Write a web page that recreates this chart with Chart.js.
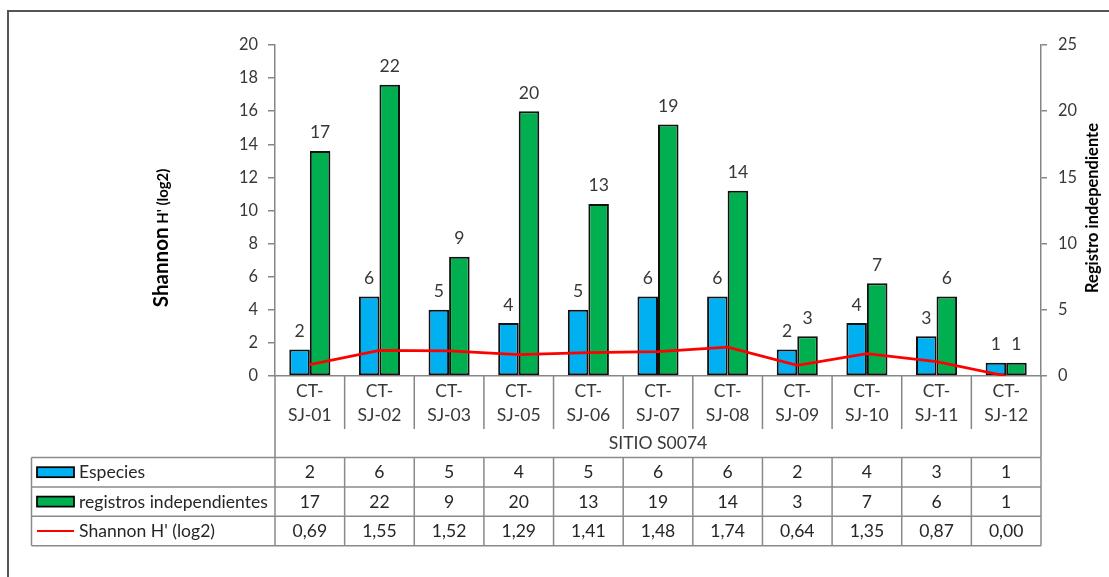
<!DOCTYPE html>
<html>
<head>
<meta charset="utf-8">
<script src="https://cdn.jsdelivr.net/npm/chart.js@4.4.1/dist/chart.umd.min.js"></script>
<style>
  html, body { margin: 0; padding: 0; background: #ffffff; }
  canvas { display: block; }
</style>
</head>
<body>
<canvas id="chart" width="1109" height="577"></canvas>
<script>
// ---- data -------------------------------------------------------------
const sites = ['CT-SJ-01', 'CT-SJ-02', 'CT-SJ-03', 'CT-SJ-05', 'CT-SJ-06', 'CT-SJ-07',
               'CT-SJ-08', 'CT-SJ-09', 'CT-SJ-10', 'CT-SJ-11', 'CT-SJ-12'];
const especies  = [2, 6, 5, 4, 5, 6, 6, 2, 4, 3, 1];
const registros = [17, 22, 9, 20, 13, 19, 14, 3, 7, 6, 1];
const shannon   = [0.69, 1.55, 1.52, 1.29, 1.41, 1.48, 1.74, 0.64, 1.35, 0.87, 0.00];

const shannonTicks  = [0, 2, 4, 6, 8, 10, 12, 14, 16, 18, 20];
const registroTicks = [0, 5, 10, 15, 20, 25];

const seriesNames = ['Especies', 'registros independientes', "Shannon H' (log2)"];
const groupLabel  = 'SITIO S0074';
const leftTitleMain  = 'Shannon';
const leftTitleSmall = " H' (log2)";
const rightTitle  = 'Registro independiente';

// ---- style --------------------------------------------------------------
const FAMILY = 'Lato, "Open Sans", "Liberation Sans", sans-serif';
const BLUE = '#00B0F0', GREEN = '#00B050', RED = '#FF0000';
const AXIS = '#868686', TEXT = '#383838', TABLE_TEXT = '#262626', FRAME = '#555555';

// size a font so a reference string spans a given width
const measureCtx = document.createElement('canvas').getContext('2d');
function fitSize(text, width, weight) {
  measureCtx.font = `${weight} 100px ${FAMILY}`;
  return 100 * width / measureCtx.measureText(text).width;
}
const baseSize  = fitSize('registros independientes', 189, 'normal');
const tickSize  = fitSize('20', 19, 'normal');
const titleMain = fitSize(leftTitleMain, 80, 'bold');
const titleSml  = fitSize(leftTitleSmall.trim(), 55, 'bold');
const titleRgt  = fitSize(rightTitle, 170, 'bold');

const fmt = v => v.toFixed(2).replace('.', ',');

// ---- decorations: category band, data table, value labels, titles ------
const decorations = {
  id: 'decorations',
  beforeDraw(chart) {
    const c = chart.ctx;
    c.save();
    c.fillStyle = '#ffffff';
    c.fillRect(0, 0, chart.width, chart.height);
    // outer frame (top and left edges)
    c.strokeStyle = FRAME;
    c.lineWidth = 2;
    c.beginPath();
    c.moveTo(8, chart.height);
    c.lineTo(8, 11);
    c.lineTo(chart.width, 11);
    c.stroke();
    c.restore();
  },
  afterDraw(chart) {
    const c = chart.ctx;
    const a = chart.chartArea;
    const xs = chart.scales.x;
    const centers = sites.map((_, i) => xs.getPixelForValue(i));
    const edges = [a.left];
    for (let i = 0; i < centers.length - 1; i++) edges.push((centers[i] + centers[i + 1]) / 2);
    edges.push(a.right);

    const sepBottom = 429;
    const tableTop = 457.5;
    const rowH = 29.4;
    const tableLeft = 31.5;
    const tableBottom = tableTop + rowH * 3;

    c.save();
    // category band separators
    c.strokeStyle = AXIS;
    c.lineWidth = 1.5;
    c.beginPath();
    edges.forEach((e, i) => {
      const outer = i === 0 || i === edges.length - 1;
      c.moveTo(e, a.bottom);
      c.lineTo(e, outer ? tableTop : sepBottom);
    });
    c.stroke();

    // category labels (two lines) and group label
    c.fillStyle = TEXT;
    c.font = `${baseSize}px ${FAMILY}`;
    c.textAlign = 'center';
    c.textBaseline = 'middle';
    sites.forEach((s, i) => {
      const cut = s.indexOf('-') + 1;
      c.fillText(s.slice(0, cut), centers[i], 391);
      c.fillText(s.slice(cut), centers[i], 415);
    });
    c.fillText(groupLabel, (a.left + a.right) / 2, 443);

    // data table grid
    c.strokeStyle = '#8a8a8a';
    c.lineWidth = 1.5;
    c.beginPath();
    for (let r = 0; r <= 3; r++) {
      c.moveTo(tableLeft, tableTop + r * rowH);
      c.lineTo(a.right, tableTop + r * rowH);
    }
    c.moveTo(tableLeft, tableTop);
    c.lineTo(tableLeft, tableBottom);
    edges.forEach(e => { c.moveTo(e, tableTop); c.lineTo(e, tableBottom); });
    c.stroke();

    // legend keys
    const keyX = 37, keyW = 37;
    const rowMid = r => tableTop + rowH * r + rowH / 2;
    [BLUE, GREEN].forEach((col, r) => {
      c.fillStyle = col;
      c.fillRect(keyX, rowMid(r) - 5, keyW, 10);
      c.strokeStyle = '#000000';
      c.lineWidth = 1.75;
      c.strokeRect(keyX, rowMid(r) - 5, keyW, 10);
    });
    c.strokeStyle = RED;
    c.lineWidth = 2;
    c.beginPath();
    c.moveTo(keyX, rowMid(2));
    c.lineTo(keyX + keyW, rowMid(2));
    c.stroke();

    // table text
    c.fillStyle = TABLE_TEXT;
    c.font = `${baseSize}px ${FAMILY}`;
    c.textAlign = 'left';
    seriesNames.forEach((n, r) => c.fillText(n, 79, rowMid(r) + 0.5));
    c.textAlign = 'center';
    const rows = [especies.map(String), registros.map(String), shannon.map(fmt)];
    rows.forEach((vals, r) => vals.forEach((v, i) => c.fillText(v, centers[i], rowMid(r) + 0.5)));

    // value labels above bars
    c.fillStyle = TEXT;
    c.textBaseline = 'alphabetic';
    [0, 1].forEach(d => {
      const meta = chart.getDatasetMeta(d);
      const vals = chart.data.datasets[d].data;
      meta.data.forEach((el, i) => c.fillText(String(vals[i]), el.x, el.y - 12.5));
    });

    // left axis title: "Shannon" + smaller " H' (log2)"
    c.save();
    c.translate(167.5, 238);
    c.rotate(-Math.PI / 2);
    c.fillStyle = '#000000';
    c.textAlign = 'left';
    c.font = `bold ${titleMain}px ${FAMILY}`;
    const w1 = c.measureText(leftTitleMain).width;
    c.font = `bold ${titleSml}px ${FAMILY}`;
    const w2 = c.measureText(leftTitleSmall).width;
    const start = -(w1 + w2) / 2;
    c.font = `bold ${titleMain}px ${FAMILY}`;
    c.fillText(leftTitleMain, start, 0);
    c.font = `bold ${titleSml}px ${FAMILY}`;
    c.fillText(leftTitleSmall, start + w1, 0);
    c.restore();

    // right axis title
    c.save();
    c.translate(1097.5, 208);
    c.rotate(-Math.PI / 2);
    c.fillStyle = '#000000';
    c.textAlign = 'center';
    c.font = `bold ${titleRgt}px ${FAMILY}`;
    c.fillText(rightTitle, 0, 0);
    c.restore();

    c.restore();
  }
};

// ---- chart --------------------------------------------------------------
const barCommon = {
  type: 'bar',
  yAxisID: 'y2',
  borderColor: '#111111',
  borderWidth: 2,
  borderSkipped: false,
  categoryPercentage: 0.59,
  barPercentage: 1,
  order: 1
};

new Chart(document.getElementById('chart').getContext('2d'), {
  data: {
    labels: sites,
    datasets: [
      Object.assign({}, barCommon, { label: seriesNames[0], data: especies, backgroundColor: BLUE }),
      Object.assign({}, barCommon, { label: seriesNames[1], data: registros, backgroundColor: GREEN }),
      {
        type: 'line',
        label: seriesNames[2],
        data: shannon,
        yAxisID: 'y',
        borderColor: RED,
        borderWidth: 2.75,
        pointRadius: 0,
        tension: 0,
        fill: false,
        order: 0
      }
    ]
  },
  options: {
    responsive: false,
    animation: false,
    devicePixelRatio: 1,
    layout: { padding: { top: 45, left: 0, right: 0, bottom: 0 } },
    plugins: { legend: { display: false }, tooltip: { enabled: false } },
    scales: {
      x: {
        ticks: { display: false },
        grid: { display: false },
        border: { display: true, color: AXIS, width: 1.5 },
        afterFit(s) { s.height = 201; }
      },
      y: {
        position: 'left',
        min: shannonTicks[0],
        max: shannonTicks[shannonTicks.length - 1],
        ticks: {
          stepSize: shannonTicks[1] - shannonTicks[0],
          color: TEXT,
          padding: 10,
          font: { family: FAMILY, size: tickSize }
        },
        grid: { drawOnChartArea: false, drawTicks: true, tickLength: 7, color: AXIS, lineWidth: 1.5 },
        border: { display: true, color: AXIS, width: 1.5 },
        afterFit(s) { s.width = 275; }
      },
      y2: {
        position: 'right',
        min: registroTicks[0],
        max: registroTicks[registroTicks.length - 1],
        ticks: {
          stepSize: registroTicks[1] - registroTicks[0],
          color: TEXT,
          padding: 11,
          font: { family: FAMILY, size: tickSize }
        },
        grid: { drawOnChartArea: false, drawTicks: true, tickLength: 6, color: AXIS, lineWidth: 1.5 },
        border: { display: true, color: AXIS, width: 1.5 },
        afterFit(s) { s.width = 68; }
      }
    }
  },
  plugins: [decorations]
});
</script>
</body>
</html>
